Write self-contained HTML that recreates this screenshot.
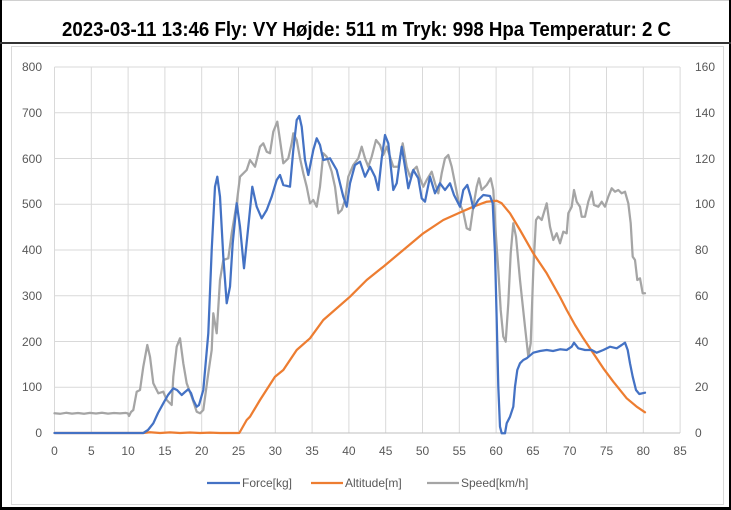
<!DOCTYPE html>
<html><head><meta charset="utf-8"><style>
html,body{margin:0;padding:0;background:#fff;}
svg{display:block;}
text{font-family:"Liberation Sans",Arial,sans-serif;}
</style></head><body>
<svg width="731" height="510" viewBox="0 0 731 510" xmlns="http://www.w3.org/2000/svg">
<rect x="0" y="0" width="731" height="510" fill="#fff"/>
<line x1="0" y1="0.5" x2="731" y2="0.5" stroke="#d0d0d0" stroke-width="1"/>
<rect x="0" y="0" width="2" height="510" fill="#000"/>
<rect x="729" y="0" width="2" height="510" fill="#000"/>
<rect x="0" y="507" width="731" height="3" fill="#000"/>
<rect x="0" y="42" width="731" height="2" fill="#333"/>
<text x="62" y="36" font-size="20" font-weight="bold" fill="#000" textLength="609" lengthAdjust="spacingAndGlyphs">2023-03-11 13:46 Fly: VY Højde: 511 m Tryk: 998 Hpa Temperatur: 2 C</text>
<rect x="11.5" y="46.5" width="712" height="458" fill="#fff" stroke="#d9d9d9" stroke-width="1"/>
<g stroke="#d9d9d9" stroke-width="1">
<line x1="54.5" y1="67" x2="680" y2="67"/>
<line x1="54.5" y1="112.75" x2="680" y2="112.75"/>
<line x1="54.5" y1="158.5" x2="680" y2="158.5"/>
<line x1="54.5" y1="204.25" x2="680" y2="204.25"/>
<line x1="54.5" y1="250" x2="680" y2="250"/>
<line x1="54.5" y1="295.75" x2="680" y2="295.75"/>
<line x1="54.5" y1="341.5" x2="680" y2="341.5"/>
<line x1="54.5" y1="387.25" x2="680" y2="387.25"/>
<line x1="54.5" y1="67" x2="54.5" y2="433"/>
<line x1="91.3" y1="67" x2="91.3" y2="433"/>
<line x1="128.1" y1="67" x2="128.1" y2="433"/>
<line x1="164.9" y1="67" x2="164.9" y2="433"/>
<line x1="201.7" y1="67" x2="201.7" y2="433"/>
<line x1="238.5" y1="67" x2="238.5" y2="433"/>
<line x1="275.3" y1="67" x2="275.3" y2="433"/>
<line x1="312.1" y1="67" x2="312.1" y2="433"/>
<line x1="348.9" y1="67" x2="348.9" y2="433"/>
<line x1="385.7" y1="67" x2="385.7" y2="433"/>
<line x1="422.5" y1="67" x2="422.5" y2="433"/>
<line x1="459.3" y1="67" x2="459.3" y2="433"/>
<line x1="496.1" y1="67" x2="496.1" y2="433"/>
<line x1="532.9" y1="67" x2="532.9" y2="433"/>
<line x1="569.7" y1="67" x2="569.7" y2="433"/>
<line x1="606.5" y1="67" x2="606.5" y2="433"/>
<line x1="643.3" y1="67" x2="643.3" y2="433"/>
<line x1="680.1" y1="67" x2="680.1" y2="433"/>
</g>
<line x1="54.5" y1="433" x2="680" y2="433" stroke="#bfbfbf" stroke-width="1"/>
<g font-size="12" fill="#595959" text-anchor="end">
<text x="42" y="71">800</text>
<text x="42" y="117">700</text>
<text x="42" y="163">600</text>
<text x="42" y="208">500</text>
<text x="42" y="254">400</text>
<text x="42" y="300">300</text>
<text x="42" y="346">200</text>
<text x="42" y="391">100</text>
<text x="42" y="437">0</text>
</g>
<g font-size="12" fill="#595959" text-anchor="start">
<text x="695" y="71">160</text>
<text x="695" y="117">140</text>
<text x="695" y="163">120</text>
<text x="695" y="208">100</text>
<text x="695" y="254">80</text>
<text x="695" y="300">60</text>
<text x="695" y="346">40</text>
<text x="695" y="391">20</text>
<text x="695" y="437">0</text>
</g>
<g font-size="12" fill="#595959" text-anchor="middle">
<text x="54.5" y="455">0</text>
<text x="91.3" y="455">5</text>
<text x="128.1" y="455">10</text>
<text x="164.9" y="455">15</text>
<text x="201.7" y="455">20</text>
<text x="238.5" y="455">25</text>
<text x="275.3" y="455">30</text>
<text x="312.1" y="455">35</text>
<text x="348.9" y="455">40</text>
<text x="385.7" y="455">45</text>
<text x="422.5" y="455">50</text>
<text x="459.3" y="455">55</text>
<text x="496.1" y="455">60</text>
<text x="532.9" y="455">65</text>
<text x="569.7" y="455">70</text>
<text x="606.5" y="455">75</text>
<text x="643.3" y="455">80</text>
<text x="680.1" y="455">85</text>
</g>
<g fill="none" stroke-width="2.25" stroke-linejoin="round" stroke-linecap="round">
<polyline stroke="#a5a5a5" points="54.5,413.3 60,413.8 66,412.8 72,413.6 78,413 84,413.8 90,412.9 96,413.5 102,412.8 108,413.6 114,413 120,413.4 126,412.9 128,413.5 129,416 131,412 133.3,410 136.7,391.7 140,390 143.3,366.7 147.3,345 150,356.7 153.3,383.3 158.3,393.3 163.3,391.7 166.7,400 171.7,405 173.3,376.7 176.7,346.7 180,338.3 183.3,363.3 186.7,383.3 191.7,396.7 196.7,411.7 200,413.3 203.3,410 208.3,373.3 211.7,350 213.3,313.3 216.7,333.3 220,280 223.3,260 228.3,258.3 231.7,233.3 236.7,203.3 240,176.7 246.7,170 250,160 255,166.7 260,146.7 263.3,143.3 266.7,151.7 270,153.3 273.3,131.7 277.3,121.7 280,140 283.3,163.3 288.3,158.3 291.7,143.3 293.3,133.3 296.7,140 300,158.3 303.3,173.3 306.7,186.7 310,203.3 313.3,200 316.7,206.7 320,186.7 323.3,153.3 326.7,156.7 331.7,171.7 335,186.7 338.3,213.3 341.7,210 345,200 348.3,176.7 353.3,165 358.3,158.3 361.7,146.7 365,158.3 368.3,166.7 371.7,156.7 376,140 380,145 383.3,155 386.7,146.7 390,156.7 393.3,166.7 398.3,166.7 402.7,143.3 406.7,166.7 410,176.7 413.3,170 416.7,166.7 420,178.3 423.3,186.7 426.7,180 431.7,171.7 435,183.3 438.3,193.3 441.7,173.3 445,158.3 448.3,155 451.7,166.7 455,183.3 458.3,200 463.3,212 466.7,228.3 470,230 473.3,206.7 476.7,186.7 479,178.3 481.7,190 486.7,185 490.7,178.3 493.3,190 496,236.7 498.3,270 500.7,310 503.3,336.7 505.7,341.7 508.3,303.3 510.7,253.3 513.3,223.3 516,236.7 520,280 525,326.7 528.3,356.7 530.7,343.3 533.3,270 536,220 538.3,216.7 541.7,220 546.7,203.3 550,226.7 553.3,240 556.7,233.3 560,243.3 563.3,231.7 566.7,233.3 568.3,213.3 571.7,206.7 574,190 576.7,201.7 580,206.7 581.7,216.7 585,216.7 588.3,201.7 591.7,191.7 594,205 598.3,206.7 601.7,201.7 605,206.7 608.3,196.7 611.7,188.3 615,191.7 618.3,190 621.7,193.3 625,191.7 628.3,203.3 630.7,223.3 632.7,256.7 635,260 637.3,280 640,278.3 642.7,293.3 645,293.3"/>
<polyline stroke="#ed7d31" points="54.5,433 100,433 143,433 150,432.3 160,433 170,432.4 180,433 190,432.5 200,433 210,432.6 220,433 239.3,433 246.7,420 250,416.7 260,400 275,376.7 283.3,370 296.7,350 310,338.3 323.3,320 350,296.7 366.7,280 383.3,266.7 403.3,250 423.3,233.3 443.3,220 460,212.5 473.3,206.7 486.7,201.7 496.7,200.7 501.7,203.3 510,213.3 520,230 533.3,253.3 546.7,273.3 560,297 566.7,310 575,325 583.3,338.3 593.3,353.3 603.3,368.3 613.3,381.7 626.7,398.3 636.7,406.7 645,412.3"/>
<polyline stroke="#4472c4" points="54.5,433 143.3,433 148,430 153.3,423.3 158,413 163.3,403.3 168,395 173.3,388.3 177,390 181.7,395 185,392 188.3,389.3 191,393 193.3,400 196.7,406.7 199,405 203.3,390 208.3,333.3 211.7,250 215,186.7 217.3,176.7 220,196.7 223.3,256.7 226.7,303.3 230,286.7 232.7,243.3 236.7,203.3 240,226.7 244,268.3 248.3,226.7 252.3,186.7 256.7,206.7 261.7,218.3 266.7,210 271.7,196.7 276.7,180 280,175 283.3,185 290,186.7 293.3,150 296.7,120 299.3,116 301.7,126.7 305,160 308.3,175 313.3,150 316.7,138.3 320,145 323.3,160 330,158.3 336.7,170 343.3,196.7 346.7,206.7 350,183.3 355,165 360,161.7 365,176.7 370,166.7 375,176.7 378.3,190 381.7,158.3 385,135 388.3,143.3 393.3,190 396.7,183.3 401.7,146.7 405,166.7 408.3,188.3 413.3,170 418.3,178.3 421.7,198.3 425,201.7 430,176.7 435,193.3 440,183.3 445,190 450,183.3 454,195 460,206.7 463.3,190 467.3,185 470.7,196.7 473.3,208.3 478.3,200 483.3,195 490,196 492.7,203.3 495,253.3 496.7,320 498.3,386.7 500,426.7 501.7,433.3 505,433.3 506.7,423.3 510,416.7 513.3,406.7 515,386.7 517.3,370 520,363.3 523.3,360 526.7,358.3 533.3,352.7 540,351 546.7,350 553,351 560,349.3 566.7,350 571.7,346.7 574,342.7 578.3,348.3 585,350 591.7,350 596.7,352.7 603.3,350 610,346.7 616.7,348.3 621.7,345 625,342.7 627.7,350 630,363.3 632.7,376.7 636,390 639.3,394 645,392.7"/>
</g>
<g stroke-width="2.25">
<line x1="207" y1="483" x2="240" y2="483" stroke="#4472c4"/>
<line x1="311" y1="483" x2="343" y2="483" stroke="#ed7d31"/>
<line x1="427" y1="483" x2="459" y2="483" stroke="#a5a5a5"/>
</g>
<g font-size="12" fill="#595959">
<text x="242" y="487">Force[kg]</text>
<text x="345" y="487">Altitude[m]</text>
<text x="461" y="487">Speed[km/h]</text>
</g>
</svg>
</body></html>
